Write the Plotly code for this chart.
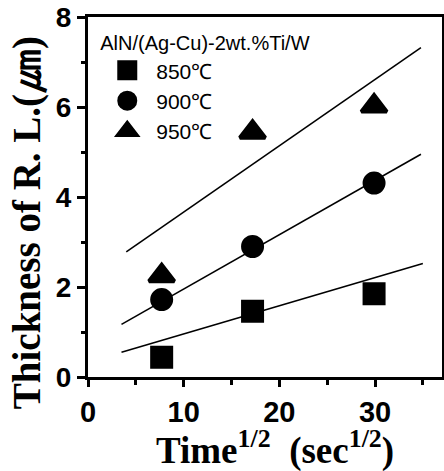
import plotly.graph_objects as go

# Data
time_sqrt = [7.7, 17.2, 29.9]
thick_850 = [0.44, 1.46, 1.85]
thick_900 = [1.72, 2.90, 4.31]
thick_950 = [2.25, 5.44, 6.02]

# Fitted lines (endpoints)
fit_x_850 = [3.5, 35.0]
fit_y_850 = [0.55, 2.52]
fit_x_900 = [3.5, 34.8]
fit_y_900 = [1.17, 4.95]
fit_x_950 = [4.0, 34.8]
fit_y_950 = [2.78, 7.32]

series_labels = ["850\u2103", "900\u2103", "950\u2103"]
legend_title = "AlN/(Ag-Cu)-2wt.%Ti/W"
x_ticks = [0, 10, 20, 30]
y_ticks = [0, 2, 4, 6, 8]

fig = go.Figure()

for fx, fy in [(fit_x_850, fit_y_850), (fit_x_900, fit_y_900), (fit_x_950, fit_y_950)]:
    fig.add_trace(go.Scatter(x=fx, y=fy, mode="lines",
                             line=dict(color="black", width=1.6),
                             showlegend=False, hoverinfo="skip"))

symbols = ["square", "circle", "triangle-up"]
sizes = [19, 19, 22]
for ys, lab, sym, sz in zip([thick_850, thick_900, thick_950], series_labels, symbols, sizes):
    fig.add_trace(go.Scatter(x=time_sqrt, y=ys, mode="markers", name=lab,
                             marker=dict(symbol=sym, size=sz, color="black",
                                         line=dict(color="black", width=4))))

axis_common = dict(showline=True, linecolor="black", linewidth=3, mirror=True,
                   showgrid=False, zeroline=False, ticks="outside", automargin=False,
                   tickcolor="black", tickwidth=2.5)

fig.update_xaxes(range=[0, 37], tickvals=x_ticks, ticklen=7,
                 tickfont=dict(family="Liberation Sans", size=29, color="black", weight="bold"),
                 minor=dict(dtick=5, ticks="outside", ticklen=5, tickwidth=2.5, tickcolor="black"),
                 **axis_common)
fig.update_yaxes(range=[0, 8], tickvals=y_ticks, ticklen=8,
                 tickfont=dict(family="Liberation Sans", size=28, color="black", weight="bold"),
                 minor=dict(dtick=1, ticks="outside", ticklen=4, tickwidth=2.5, tickcolor="black"),
                 **axis_common)

fig.add_annotation(text="Time<sup>1/2</sup>\u00a0\u00a0(sec<sup>1/2</sup>)", xref="paper", yref="paper",
                   x=0.528, y=-0.198, xanchor="center", yanchor="middle", showarrow=False,
                   font=dict(family="Liberation Serif", size=37, color="black", weight="bold"))
fig.add_annotation(text="Thickness of R. L.(<span style=\"font-size:45px\">\u339b</span>)",
                   xref="paper", yref="paper",
                   x=-0.178, y=0.43, xanchor="center", yanchor="middle", showarrow=False,
                   textangle=-90,
                   font=dict(family="Liberation Serif", size=39, color="black", weight="bold"))

fig.update_layout(
    template="none",
    width=444, height=471,
    margin=dict(l=88, r=2, t=17, b=94, autoexpand=False),
    paper_bgcolor="white", plot_bgcolor="white",
    legend=dict(title=dict(text=legend_title, side="top",
                           font=dict(family="Liberation Sans", size=20, color="black")),
                font=dict(family="Liberation Sans", size=21, color="black"),
                x=0.029, y=0.98, xanchor="left", yanchor="top", itemwidth=48,
                bgcolor="rgba(0,0,0,0)", borderwidth=0,
                itemsizing="trace", tracegroupgap=0),
    showlegend=True,
)

fig.write_html("out.html", config={"displayModeBar": False},
               post_script="document.body.style.margin='0';document.body.style.padding='0';")
